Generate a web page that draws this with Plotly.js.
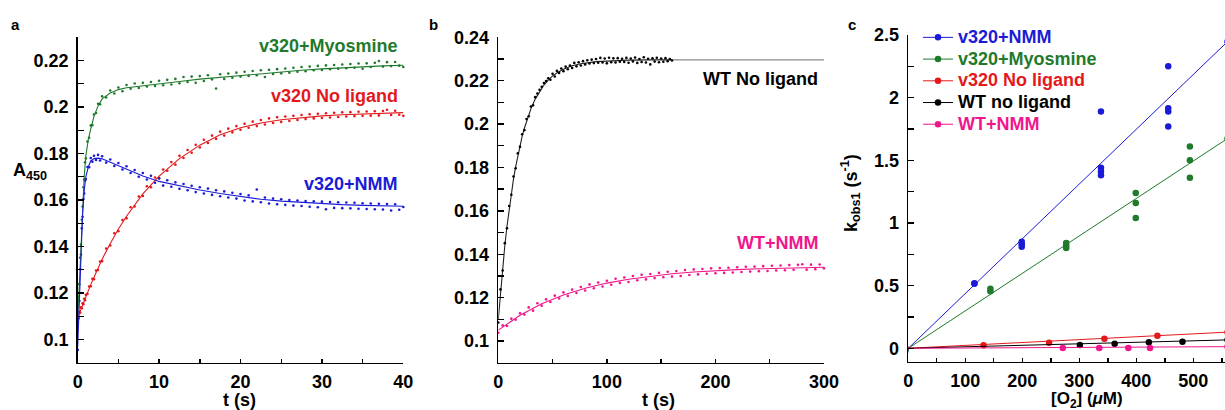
<!DOCTYPE html>
<html>
<head>
<meta charset="utf-8">
<script src="https://cdn.plot.ly/plotly-3.0.1.min.js"></script>
<style>html,body{margin:0;padding:0;background:#fff}#chart{width:1225px;height:410px}</style>
</head>
<body>
<div id="chart"></div>
<script>
// ---------- Panel a data ----------
const timeA = [0,0.1,0.2,0.3,0.4,0.5,0.6,0.7,0.8,0.9,1.0,1.2,1.4,1.6,1.8,2.0,2.25,2.5,2.75,3.0,
  3.5,4,4.5,5,5.5,6,6.5,7,7.5,8,8.5,9,9.5,10,
  10.5,11,11.5,12,12.5,13,13.5,14,14.5,15,15.5,16,16.5,17,17.5,18,18.5,19,19.5,20,
  20.5,21,21.5,22,22.5,23,23.5,24,24.5,25,25.5,26,26.5,27,27.5,28,28.5,29,29.5,30,
  30.5,31,31.5,32,32.5,33,33.5,34,34.5,35,35.5,36,36.5,37,37.5,38,38.5,39,39.5,40];
const myosmineDotsA = [0.1065,0.1185,0.1238,0.1352,0.1408,0.1515,0.1572,0.1655,0.1688,0.1762,0.1779,
  0.1852,0.1868,0.1921,0.1922,0.1968,0.1974,0.2014,0.2012,0.2046,
  0.2041,0.2071,0.2058,0.2084,0.2068,0.2095,0.2079,0.2101,0.2082,0.2104,0.2088,0.2108,0.2091,0.2113,
  0.2094,0.2117,0.2097,0.2121,0.2102,0.2129,0.2108,0.2131,0.2104,0.2133,0.2112,0.2137,0.2119,0.2080,0.2141,0.2121,0.2144,0.2126,0.2148,0.2131,
  0.2152,0.2134,0.2155,0.2137,0.2158,0.2129,0.2160,0.2142,0.2163,0.2145,0.2166,0.2148,0.2169,0.2152,0.2172,0.2154,0.2174,0.2158,0.2177,0.2159,
  0.2179,0.2163,0.2181,0.2165,0.2183,0.2167,0.2185,0.2169,0.2187,0.2165,0.2188,0.2172,0.2190,0.2198,0.2174,0.2193,0.2176,0.2194,0.2178,0.2172];
const noLigandDotsA = [0.1095,0.1098,0.1118,0.1115,0.1138,0.1134,0.1156,0.1152,0.1175,0.1169,0.1192,
  0.1196,0.1228,0.1229,0.1261,0.1259,0.1297,0.1299,0.1335,0.1337,
  0.1391,0.1404,0.1457,0.1466,0.1514,0.1521,0.1569,0.1572,0.1615,0.1617,0.1659,0.1655,0.1697,0.1694,
  0.1731,0.1726,0.1763,0.1752,0.1790,0.1781,0.1815,0.1803,0.1838,0.1826,0.1859,0.1845,0.1877,0.1863,0.1894,0.1877,0.1907,0.1891,0.1918,0.1902,
  0.1928,0.1911,0.1937,0.1918,0.1944,0.1925,0.1951,0.1931,0.1956,0.1936,0.1959,0.1940,0.1962,0.1944,0.1966,0.1948,0.1969,0.1951,0.1971,0.1953,
  0.1973,0.1955,0.1975,0.1957,0.1977,0.1959,0.1978,0.1961,0.1980,0.1962,0.1981,0.1963,0.1982,0.1964,0.1983,0.1988,0.1966,0.1984,0.1967,0.1962];
const nmmDotsA = [0.0955,0.1090,0.1165,0.1302,0.1365,0.1478,0.1528,0.1604,0.1628,0.1684,0.1690,
  0.1742,0.1741,0.1781,0.1765,0.1790,0.1772,0.1794,0.1770,0.1788,
  0.1761,0.1774,0.1746,0.1759,0.1731,0.1745,0.1716,0.1729,0.1700,0.1716,0.1688,0.1704,0.1674,0.1693,
  0.1662,0.1685,0.1657,0.1676,0.1648,0.1669,0.1642,0.1661,0.1634,0.1655,0.1628,0.1649,0.1622,0.1642,0.1616,0.1637,0.1611,0.1631,0.1606,0.1626,
  0.1598,0.1620,0.1594,0.1645,0.1590,0.1611,0.1585,0.1606,0.1582,0.1603,0.1579,0.1600,0.1576,0.1598,0.1574,0.1596,0.1571,0.1594,0.1569,0.1593,
  0.1560,0.1591,0.1566,0.1590,0.1565,0.1589,0.1564,0.1588,0.1562,0.1586,0.1561,0.1585,0.1560,0.1584,0.1559,0.1583,0.1555,0.1582,0.1558,0.1570];
const fitTimeA = [0,0.2,0.4,0.6,0.8,1,1.3,1.6,2,2.5,3,4,5,6,8,10,12.5,15,17.5,20,22.5,25,27.5,30,32.5,35,37.5,40];
const myosmineFitA = [0.108,0.125,0.142,0.158,0.170,0.179,0.186,0.1905,0.196,0.2005,0.2035,0.206,0.2075,0.2083,0.2092,0.2100,0.2110,0.2120,0.2128,0.2137,0.2145,0.2152,0.2158,0.2164,0.2169,0.2173,0.2177,0.2180];
const noLigandFitA = [0.1093,0.1112,0.1131,0.1149,0.1167,0.1185,0.1211,0.1236,0.1268,0.1307,0.1345,0.1413,0.1475,0.1530,0.1626,0.1703,0.1778,0.1836,0.1881,0.1911,0.1931,0.1945,0.1955,0.1962,0.1967,0.1971,0.1974,0.1976];
const nmmFitA = [0.097,0.118,0.138,0.154,0.164,0.170,0.1742,0.1768,0.1778,0.1780,0.1777,0.1762,0.1748,0.1733,0.1703,0.1680,0.1660,0.1643,0.1628,0.1614,0.1603,0.1595,0.1589,0.1584,0.1580,0.1577,0.1575,0.1573];

// ---------- Panel b data ----------
const timeWT = [0,2,4,6,8,10,12,14,16,18,20,22,24,26,28,30,32,34,36,38,40,42,44,46,48,50,52,54,56,58,60,
  62,64,66,68,70,72,74,76,78,80,82,84,86,88,90,92,94,96,98,100,
  102,104,106,108,110,112,114,116,118,120,122,124,126,128,130,132,134,136,138,140,
  142,144,146,148,150,152,154,156,158,160];
const wtNoLigandDots = [0.1085,0.1238,0.1325,0.1451,0.1520,0.1622,0.1674,0.1758,0.1796,0.1865,0.1895,0.1953,0.1972,0.2023,0.2036,0.2081,
  0.2087,0.2124,0.2141,0.2158,0.2172,0.2189,0.2198,0.2211,0.2204,0.2232,0.2219,0.2245,0.2236,0.2256,0.2244,
  0.2265,0.2253,0.2270,0.2259,0.2282,0.2266,0.2285,0.2270,0.2290,0.2275,0.2294,0.2279,0.2297,0.2281,0.2300,0.2283,0.2305,0.2284,0.2302,0.2280,
  0.2306,0.2285,0.2303,0.2284,0.2304,0.2287,0.2301,0.2286,0.2305,0.2283,0.2302,0.2289,0.2307,0.2282,0.2300,0.2286,0.2308,0.2284,0.2301,0.2275,
  0.2303,0.2288,0.2306,0.2285,0.2302,0.2287,0.2304,0.2290,0.2300,0.2293];
const timeWTNMM = [0,4,8,12,16,20,24,28,32,36,40,44,48,52,56,60,64,68,72,76,80,84,88,92,96,100,
  104,108,112,116,120,124,128,132,136,140,144,148,152,156,160,164,168,172,176,180,184,188,192,196,200,
  204,208,212,216,220,224,228,232,236,240,244,248,252,256,260,264,268,272,276,280,284,288,292,296,300];
const wtNmmDots = [0.1038,0.1072,0.1069,0.1103,0.1098,0.1128,0.1122,0.1155,0.1140,0.1174,0.1163,0.1192,0.1180,0.1209,0.1196,0.1224,
  0.1208,0.1237,0.1221,0.1249,0.1233,0.1261,0.1243,0.1270,0.1251,0.1278,0.1259,0.1287,0.1268,0.1293,0.1272,
  0.1300,0.1280,0.1305,0.1284,0.1309,0.1290,0.1314,0.1294,0.1319,0.1297,0.1323,0.1300,0.1327,0.1304,0.1330,
  0.1307,0.1332,0.1310,0.1335,0.1312,0.1336,0.1314,0.1338,0.1316,0.1340,0.1318,0.1342,0.1320,0.1343,0.1322,
  0.1345,0.1323,0.1347,0.1325,0.1348,0.1326,0.1350,0.1328,0.1351,0.1354,0.1329,0.1352,0.1331,0.1353,0.1335];
const fitTimeWT = [0,2,4,6,8,10,12,14,16,18,20,22,24,26,28,30,34,38,42,46,50,55,60,68,76,90,100,120,140,160];
const wtNoLigandFit = [0.1100,0.1226,0.1338,0.1439,0.1529,0.1610,0.1682,0.1747,0.1804,0.1856,0.1902,0.1944,0.1981,0.2014,0.2044,0.2070,
  0.2115,0.2151,0.2180,0.2203,0.2222,0.2239,0.2253,0.2269,0.2278,0.2288,0.2291,0.2295,0.2296,0.2296];
const extTimeWT = [160,200,250,300];
const wtNoLigandExt = [0.2296,0.2296,0.2296,0.2296];
const fitTimeWTNMM = [0,20,40,60,80,100,120,140,160,180,200,220,240,260,280,300];
const wtNmmFit = [0.1050,0.1119,0.1172,0.1212,0.1243,0.1267,0.1285,0.1299,0.1310,0.1318,0.1325,0.1329,0.1333,0.1336,0.1338,0.1340];

// ---------- Panel c data ----------
const o2NMM = [116,116,199,199,199,338,338,338,338,456,456,456,456];
const kNMM = [0.52,0.515,0.85,0.83,0.81,1.89,1.44,1.41,1.38,2.25,1.915,1.89,1.77];
const o2Myo = [144,144,277,277,277,399,399,399,494,494,494];
const kMyo = [0.475,0.455,0.84,0.82,0.80,1.24,1.16,1.04,1.61,1.50,1.36];
const o2V320 = [132,247,344,437];
const kV320 = [0.024,0.045,0.077,0.10];
const o2WT = [301,362,422,481];
const kWT = [0.027,0.037,0.048,0.053];
const o2WTNMM = [271,335,386,424];
const kWTNMM = [0.003,0.003,0.003,0.003];
const fitO2 = [-5,560];
const fitNMM = [-0.022,2.447];
const fitMyo = [-0.015,1.674];
const fitV320 = [-0.001,0.129];
const fitWT = [-0.0006,0.067];
const fitWTNMM = [-0.0001,0.013];

const legendNames = ['v320+NMM','v320+Myosmine','v320 No ligand','WT no ligand','WT+NMM'];

// ---------- styling ----------
const FONT = 'Liberation Sans, Arial, Helvetica, sans-serif';
const C = {blue:'#1b1bd6', green:'#1f7a2c', red:'#e3191c', black:'#000000', pink:'#f0168b', gray:'#8a8a8a'};
const W = 1225, H = 410;
const px = x => x / W;
const py = y => 1 - y / H;

const traces = [];
function dots(x, y, color, xa, ya) {
  traces.push({x, y, type:'scatter', mode:'markers', xaxis:xa, yaxis:ya, showlegend:false,
    marker:{size:2.6, color}, cliponaxis:false, hoverinfo:'skip'});
}
function fit(x, y, color, xa, ya, w) {
  traces.push({x, y, type:'scatter', mode:'lines', xaxis:xa, yaxis:ya, showlegend:false,
    line:{color, width:w || 1.1}, hoverinfo:'skip'});
}
// Panel a
dots(timeA, myosmineDotsA, C.green, 'x', 'y');
dots(timeA, noLigandDotsA, C.red, 'x', 'y');
dots(timeA, nmmDotsA, C.blue, 'x', 'y');
fit(fitTimeA, myosmineFitA, C.green, 'x', 'y');
fit(fitTimeA, noLigandFitA, C.red, 'x', 'y');
fit(fitTimeA, nmmFitA, C.blue, 'x', 'y');
// Panel b
fit(fitTimeWT, wtNoLigandFit, '#222', 'x2', 'y2', 1.1);
fit(extTimeWT, wtNoLigandExt, C.gray, 'x2', 'y2', 1.4);
dots(timeWT, wtNoLigandDots, C.black, 'x2', 'y2');
dots(timeWTNMM, wtNmmDots, C.pink, 'x2', 'y2');
fit(fitTimeWTNMM, wtNmmFit, C.pink, 'x2', 'y2');
// Panel c
const cSets = [
  [o2NMM, kNMM, fitNMM, C.blue],
  [o2Myo, kMyo, fitMyo, C.green],
  [o2V320, kV320, fitV320, C.red],
  [o2WT, kWT, fitWT, C.black],
  [o2WTNMM, kWTNMM, fitWTNMM, C.pink]
];
cSets.forEach((s, i) => {
  traces.push({x:fitO2, y:s[2], type:'scatter', mode:'lines+markers', xaxis:'x3', yaxis:'y3',
    name:'<span style="color:' + s[3] + ';font-size:18px">' + legendNames[i] + '</span>',
    line:{color:s[3], width:1}, marker:{size:6.5, color:s[3]}, cliponaxis:true, hoverinfo:'skip'});
  traces.push({x:s[0], y:s[1], type:'scatter', mode:'markers', xaxis:'x3', yaxis:'y3', showlegend:false,
    marker:{size:6.5, color:s[3]}, hoverinfo:'skip'});
});

const tickfont = {family:FONT, size:18, weight:'bold', color:'#000'};
function ax(o) {
  return Object.assign({showline:true, linecolor:'#000', linewidth:1.6, showgrid:false, zeroline:false,
    ticks:'inside', tickcolor:'#000', tickwidth:1.4, tickfont, tick0:0, fixedrange:true}, o);
}
function minor(dtick, len) {
  return {ticks:'inside', dtick, ticklen:len, tickwidth:1.4, tickcolor:'#000', showgrid:false};
}

const layout = {
  width:W, height:H, margin:{l:0, r:0, t:0, b:0}, paper_bgcolor:'#fff', plot_bgcolor:'rgba(0,0,0,0)',
  hovermode:false,
  xaxis: ax({domain:[px(77.7), px(403.3)], range:[0,40], dtick:10, ticklen:4, minor:minor(5,4), anchor:'y', ticklabelstandoff:2}),
  yaxis: ax({domain:[py(362.7), py(37.3)], range:[0.09,0.23], dtick:0.02, ticklen:6, minor:minor(0.01,6), anchor:'x', ticklabelstandoff:4}),
  xaxis2: ax({domain:[px(498.3), px(824)], range:[0,300], dtick:100, ticklen:4, minor:minor(50,4), anchor:'y2', ticklabelstandoff:2}),
  yaxis2: ax({domain:[py(362.7), py(37.3)], range:[0.09,0.24], dtick:0.02, ticklen:6, minor:minor(0.01,6), anchor:'x2', ticklabelstandoff:4}),
  xaxis3: ax({domain:[px(908.3), 1], range:[0,555.6], dtick:100, ticklen:4, minor:minor(50,4), anchor:'y3', ticklabelstandoff:2}),
  yaxis3: ax({domain:[py(361.7), py(35)], range:[-0.107,2.5], dtick:0.5, ticklen:6, minor:minor(0.25,6), anchor:'x3', ticklabelstandoff:4}),
  showlegend:true,
  legend:{x:px(918), y:py(21.5), xanchor:'left', yanchor:'top', bgcolor:'rgba(0,0,0,0)',
    font:{family:FONT, size:14.4, weight:'bold'}, tracegroupgap:0, itemwidth:30,
    itemclick:false, itemdoubleclick:false},
  annotations:[]
};
function ann(text, x, y, opts) {
  layout.annotations.push(Object.assign({text, xref:'paper', yref:'paper', x:px(x), y:py(y),
    showarrow:false, xanchor:'center', yanchor:'middle',
    font:{family:FONT, size:18, weight:'bold', color:'#000'}}, opts || {}));
}
// panel letters
ann('a', 15, 24, {font:{family:FONT, size:15, weight:'bold', color:'#000'}});
ann('b', 433, 24, {font:{family:FONT, size:15, weight:'bold', color:'#000'}});
ann('c', 852, 24, {font:{family:FONT, size:15, weight:'bold', color:'#000'}});
// panel a labels
ann('v320+Myosmine', 400, 46, {xanchor:'right', font:{family:FONT, size:18, weight:'bold', color:C.green}});
ann('v320 No ligand', 400, 96, {xanchor:'right', font:{family:FONT, size:18, weight:'bold', color:C.red}});
ann('v320+NMM', 400, 184, {xanchor:'right', font:{family:FONT, size:18, weight:'bold', color:C.blue}});
ann('A<sub>450</sub>', 11, 172, {xanchor:'left'});
ann('t (s)', 239.5, 400);
// panel b labels
ann('WT No ligand', 820, 79, {xanchor:'right'});
ann('WT+NMM', 820, 243, {xanchor:'right', font:{family:FONT, size:18, weight:'bold', color:C.pink}});
ann('t (s)', 658, 400);
// panel c labels
ann('[O<sub>2</sub>] (<i>μ</i>M)', 1087, 400, {font:{family:FONT, size:17, weight:'bold', color:'#000'}});
ann('k<sub>obs1</sub> (s<sup>-1</sup>)', 850, 193, {textangle:-90});

Plotly.newPlot('chart', traces, layout, {displayModeBar:false, staticPlot:true});
</script>
</body>
</html>
